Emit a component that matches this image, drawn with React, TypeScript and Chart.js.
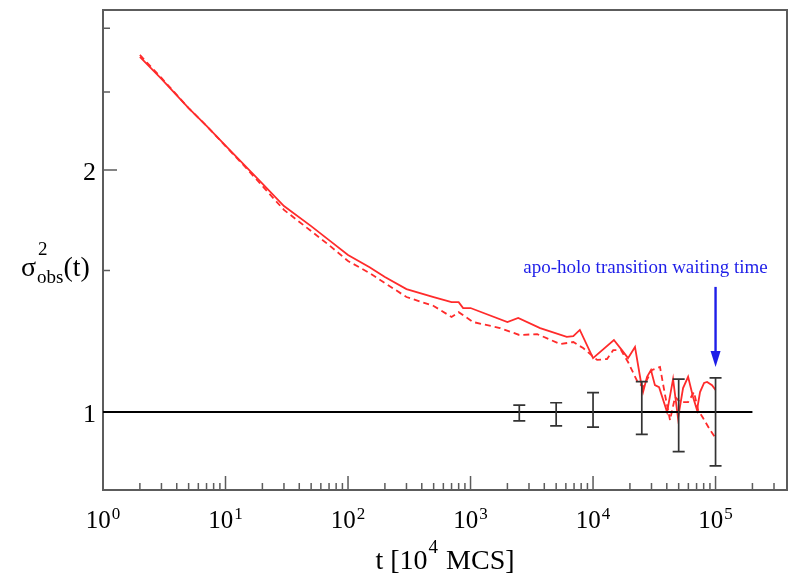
import { useEffect, useRef } from "react";
import { Chart, registerables } from "chart.js";

Chart.register(...registerables);

// ---- data ----
const solidT = [2, 3, 4, 5, 7, 10, 15, 20, 30, 50, 70, 100, 150, 200, 300, 500, 700, 800, 870, 1000, 2000, 2450, 3700, 6100, 6900, 7800, 10000, 14800, 17200, 19300, 22000, 24600, 25600, 27600, 29700, 32000, 34600, 40200, 45000, 49400, 54300, 59700, 65500, 70600, 74700, 80600, 85300, 93600, 100000];
const solidV = [2.764, 2.596, 2.476, 2.388, 2.269, 2.145, 2.012, 1.924, 1.804, 1.703, 1.636, 1.568, 1.514, 1.472, 1.422, 1.39, 1.37, 1.37, 1.347, 1.347, 1.294, 1.309, 1.272, 1.24, 1.243, 1.265, 1.167, 1.229, 1.194, 1.167, 1.205, 1.09, 1.059, 1.106, 1.128, 1.08, 1.074, 1.0, 1.099, 0.983, 1.071, 1.106, 1.044, 1.006, 1.059, 1.087, 1.09, 1.08, 1.065];

const dashedT = [2, 3, 4, 5, 7, 10, 15, 20, 30, 50, 70, 100, 150, 200, 300, 500, 700, 800, 1050, 1740, 2500, 3500, 5400, 6900, 8300, 10800, 13000, 14600, 16900, 19300, 22900, 25600, 30300, 35200, 38700, 42500, 46700, 51300, 59700, 66700, 72000, 79100, 90200, 100000];
const dashedV = [2.78, 2.603, 2.48, 2.388, 2.269, 2.142, 2.006, 1.91, 1.784, 1.679, 1.613, 1.541, 1.489, 1.447, 1.39, 1.355, 1.313, 1.331, 1.294, 1.272, 1.247, 1.25, 1.215, 1.222, 1.201, 1.161, 1.164, 1.194, 1.194, 1.154, 1.093, 1.074, 1.128, 1.138, 1.05, 0.977, 1.044, 1.029, 1.029, 1.059, 1.006, 0.983, 0.95, 0.928];

const refLineT = [1, 200000];
const refLineV = [1, 1];

const errT = [2500, 5000, 10000, 25000, 50000, 100000];
const errHi = [1.02, 1.027, 1.057, 1.091, 1.099, 1.103];
const errLo = [0.975, 0.961, 0.958, 0.938, 0.893, 0.857];

const xMajor = [1, 10, 100, 1000, 10000, 100000];
const xMajorExp = ["0", "1", "2", "3", "4", "5"];
const xMinorMult = [2, 3, 4, 5, 6, 7, 8, 9];
const yMajor = [1, 2];
const yMajorLabels = ["1", "2"];
const yMinor = [1.5, 2.5, 3];

const xMin = 1;
const xMax = 383000;
const yMin = 0.8;
const yMax = 3.162;

const annText = "apo-holo transition waiting time";
const annTextT = 26800;
const annTextV = 1.514;
const arrowT = 100000;
const arrowFromV = 1.431;
const arrowToV = 1.138;

const SERIF = "'Liberation Serif', 'DejaVu Serif', serif";

const overlayPlugin = {
  id: "overlay",
  beforeDatasetsDraw(chart: any) {
    const ctx: CanvasRenderingContext2D = chart.ctx;
    const xs = chart.scales.x;
    const ys = chart.scales.y;
    const a = chart.chartArea;
    ctx.save();
    ctx.strokeStyle = "#5c5c5c";
    // x ticks
    ctx.lineWidth = 1.5;
    ctx.beginPath();
    xMajor.forEach((v) => {
      const px = xs.getPixelForValue(v);
      ctx.moveTo(px, a.bottom);
      ctx.lineTo(px, a.bottom - 14);
      xMinorMult.forEach((m) => {
        const mv = v * m;
        if (mv <= xMax) {
          const mx = xs.getPixelForValue(mv);
          ctx.moveTo(mx, a.bottom);
          ctx.lineTo(mx, a.bottom - 7);
        }
      });
    });
    // y ticks
    yMajor.forEach((v) => {
      const py = ys.getPixelForValue(v);
      ctx.moveTo(a.left, py);
      ctx.lineTo(a.left + 14, py);
    });
    yMinor.forEach((v) => {
      const py = ys.getPixelForValue(v);
      ctx.moveTo(a.left, py);
      ctx.lineTo(a.left + 7, py);
    });
    ctx.stroke();

    // frame
    ctx.lineWidth = 2;
    ctx.strokeRect(a.left, a.top, a.right - a.left, a.bottom - a.top);

    // x tick labels
    ctx.fillStyle = "#000";
    ctx.textBaseline = "alphabetic";
    ctx.textAlign = "left";
    xMajor.forEach((v, i) => {
      const px = xs.getPixelForValue(v);
      ctx.font = `25px ${SERIF}`;
      const w1 = ctx.measureText("10").width;
      ctx.font = `17px ${SERIF}`;
      const w2 = ctx.measureText(xMajorExp[i]).width;
      const start = px - (w1 + w2 + 1) / 2;
      ctx.font = `25px ${SERIF}`;
      ctx.fillText("10", start, a.bottom + 38);
      ctx.font = `17px ${SERIF}`;
      ctx.fillText(xMajorExp[i], start + w1 + 1, a.bottom + 29);
    });

    // y tick labels
    ctx.textAlign = "right";
    ctx.font = `26px ${SERIF}`;
    yMajor.forEach((v, i) => {
      const py = ys.getPixelForValue(v);
      ctx.fillText(yMajorLabels[i], a.left - 7, py + 10);
    });

    // x title: t [10^4 MCS]
    ctx.textAlign = "left";
    const p1 = "t [10";
    const p2 = "4";
    const p3 = " MCS]";
    ctx.font = `28px ${SERIF}`;
    const w1 = ctx.measureText(p1).width;
    const w3 = ctx.measureText(p3).width;
    ctx.font = `19px ${SERIF}`;
    const w2 = ctx.measureText(p2).width;
    const cx = (a.left + a.right) / 2;
    const sx = cx - (w1 + w2 + w3 + 2) / 2;
    ctx.font = `28px ${SERIF}`;
    ctx.fillText(p1, sx, a.bottom + 79);
    ctx.font = `19px ${SERIF}`;
    ctx.fillText(p2, sx + w1 + 1, a.bottom + 63);
    ctx.font = `28px ${SERIF}`;
    ctx.fillText(p3, sx + w1 + w2 + 2, a.bottom + 79);

    // y title: sigma^2_obs(t)
    const yb = 276;
    ctx.font = `28px ${SERIF}`;
    ctx.fillText("σ", 21, yb);
    const ws = ctx.measureText("σ").width;
    ctx.font = `19px ${SERIF}`;
    ctx.fillText("2", 21 + ws + 2, yb - 21);
    ctx.fillText("obs", 21 + ws + 1, yb + 7);
    const wo = ctx.measureText("obs").width;
    ctx.font = `28px ${SERIF}`;
    ctx.fillText("(t)", 21 + ws + wo + 1, yb);
    ctx.restore();
  },
  afterDatasetsDraw(chart: any) {
    const ctx: CanvasRenderingContext2D = chart.ctx;
    const xs = chart.scales.x;
    const ys = chart.scales.y;
    ctx.save();

    // error bars
    ctx.strokeStyle = "#333333";
    ctx.lineWidth = 1.7;
    errT.forEach((t, i) => {
      const px = xs.getPixelForValue(t);
      const top = ys.getPixelForValue(errHi[i]);
      const bot = ys.getPixelForValue(errLo[i]);
      ctx.beginPath();
      ctx.moveTo(px, top);
      ctx.lineTo(px, bot);
      ctx.moveTo(px - 6, top);
      ctx.lineTo(px + 6, top);
      ctx.moveTo(px - 6, bot);
      ctx.lineTo(px + 6, bot);
      ctx.stroke();
    });

    // arrow
    const ax = xs.getPixelForValue(arrowT);
    const ay0 = ys.getPixelForValue(arrowFromV);
    const ay1 = ys.getPixelForValue(arrowToV);
    ctx.strokeStyle = "#1e1ee8";
    ctx.fillStyle = "#1e1ee8";
    ctx.lineWidth = 2.4;
    ctx.beginPath();
    ctx.moveTo(ax, ay0);
    ctx.lineTo(ax, ay1 - 10);
    ctx.stroke();
    ctx.beginPath();
    ctx.moveTo(ax, ay1);
    ctx.lineTo(ax - 5, ay1 - 16);
    ctx.lineTo(ax + 5, ay1 - 16);
    ctx.closePath();
    ctx.fill();

    // annotation text
    ctx.font = `19px ${SERIF}`;
    ctx.textAlign = "center";
    ctx.textBaseline = "alphabetic";
    ctx.fillText(annText, xs.getPixelForValue(annTextT), ys.getPixelForValue(annTextV) + 6);

    ctx.restore();
  },
};

export default function App() {
  const ref = useRef<HTMLCanvasElement | null>(null);
  useEffect(() => {
    if (!ref.current) return;
    const chart = new Chart(ref.current, {
      type: "scatter",
      data: {
        datasets: [
          {
            label: "ref",
            data: refLineT.map((t, i) => ({ x: t, y: refLineV[i] })),
            showLine: true,
            borderColor: "#000000",
            borderWidth: 2,
            pointRadius: 0,
          },
          {
            label: "solid",
            data: solidT.map((t, i) => ({ x: t, y: solidV[i] })),
            showLine: true,
            borderColor: "#ff2b2b",
            borderWidth: 1.8,
            pointRadius: 0,
            tension: 0,
          },
          {
            label: "dashed",
            data: dashedT.map((t, i) => ({ x: t, y: dashedV[i] })),
            showLine: true,
            borderColor: "#ff2b2b",
            borderWidth: 1.8,
            borderDash: [6, 4],
            pointRadius: 0,
            tension: 0,
          },
        ],
      },
      options: {
        animation: false,
        responsive: true,
        maintainAspectRatio: false,
        layout: { padding: { left: 103, top: 10, right: 13, bottom: 92 } },
        plugins: { legend: { display: false }, tooltip: { enabled: false } },
        scales: {
          x: {
            type: "logarithmic",
            min: xMin,
            max: xMax,
            ticks: { display: false },
            grid: { display: false, drawTicks: false },
            border: { display: false },
          },
          y: {
            type: "logarithmic",
            min: yMin,
            max: yMax,
            ticks: { display: false },
            grid: { display: false, drawTicks: false },
            border: { display: false },
          },
        },
      },
      plugins: [overlayPlugin],
    });
    return () => chart.destroy();
  }, []);
  return (
    <div style={{ position: "fixed", left: 0, top: 0, width: 800, height: 582, background: "#fff" }}>
      <canvas ref={ref} />
    </div>
  );
}
